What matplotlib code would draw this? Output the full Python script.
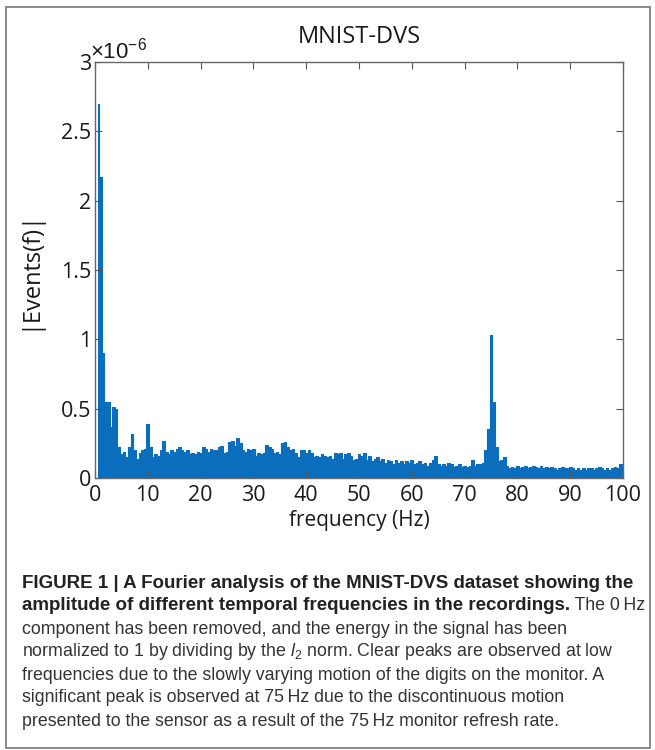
import numpy as np
import matplotlib
matplotlib.use("Agg")
import matplotlib.pyplot as plt
from matplotlib.patches import Rectangle

plt.rcParams['mathtext.fontset'] = 'custom'
plt.rcParams['mathtext.rm'] = 'Liberation Sans'
plt.rcParams['mathtext.it'] = 'Liberation Sans:italic'

# spectrum, 0.5 Hz steps, amplitude in units of 1e-6
freq = np.arange(1, 201) * 0.5
amp = [
    2.70, 2.17, 0.90, 0.55, 0.55, 0.37, 0.51, 0.50, 0.22, 0.17,
    0.19, 0.15, 0.22, 0.32, 0.20, 0.14, 0.18, 0.20, 0.21, 0.39,
    0.22, 0.15, 0.17, 0.16, 0.20, 0.27, 0.19, 0.17, 0.20, 0.19,
    0.21, 0.22, 0.20, 0.19, 0.20, 0.17, 0.18, 0.17, 0.19, 0.18,
    0.22, 0.21, 0.19, 0.21, 0.20, 0.20, 0.22, 0.23, 0.18, 0.19,
    0.26, 0.27, 0.23, 0.29, 0.25, 0.20, 0.19, 0.21, 0.20, 0.21,
    0.16, 0.18, 0.17, 0.18, 0.24, 0.22, 0.21, 0.18, 0.19, 0.17,
    0.25, 0.26, 0.22, 0.20, 0.21, 0.18, 0.15, 0.20, 0.20, 0.18,
    0.20, 0.18, 0.15, 0.16, 0.15, 0.17, 0.16, 0.15, 0.16, 0.14,
    0.18, 0.17, 0.18, 0.14, 0.17, 0.18, 0.16, 0.13, 0.14, 0.17,
    0.16, 0.18, 0.13, 0.16, 0.12, 0.14, 0.15, 0.12, 0.14, 0.11,
    0.13, 0.12, 0.10, 0.13, 0.11, 0.12, 0.10, 0.12, 0.11, 0.13,
    0.10, 0.11, 0.12, 0.10, 0.11, 0.09, 0.11, 0.13, 0.16, 0.10,
    0.09, 0.10, 0.09, 0.11, 0.10, 0.08, 0.09, 0.10, 0.08, 0.09,
    0.08, 0.09, 0.13, 0.09, 0.10, 0.10, 0.11, 0.20, 0.35, 1.03,
    0.55, 0.22, 0.12, 0.13, 0.15, 0.09, 0.07, 0.08, 0.07, 0.09,
    0.07, 0.08, 0.09, 0.07, 0.08, 0.09, 0.08, 0.07, 0.09, 0.07,
    0.08, 0.07, 0.08, 0.07, 0.06, 0.07, 0.08, 0.07, 0.07, 0.08,
    0.07, 0.06, 0.07, 0.06, 0.07, 0.06, 0.07, 0.07, 0.06, 0.07,
    0.08, 0.07, 0.06, 0.07, 0.06, 0.07, 0.08, 0.07, 0.10, 0.09,
]

xticks = [0, 10, 20, 30, 40, 50, 60, 70, 80, 90, 100]
yticks = [0, 0.5, 1, 1.5, 2, 2.5, 3]
ytick_labels = ['0', '0.5', '1', '1.5', '2', '2.5', '3']

caption_bold_1 = "FIGURE 1 | A Fourier analysis of the MNIST-DVS dataset showing the"
caption_bold_2 = "amplitude of different temporal frequencies in the recordings."
caption_rest_2 = " The 0\u2009Hz"
caption_lines = [
    "component has been removed, and the energy in the signal has been",
    "normalized to 1 by dividing by the $l_2$ norm. Clear peaks are observed at low",
    "frequencies due to the slowly varying motion of the digits on the monitor. A",
    "significant peak is observed at 75\u2009Hz due to the discontinuous motion",
    "presented to the sensor as a result of the 75\u2009Hz monitor refresh rate.",
]

W, H = 655, 750
blue = '#0a6ebd'
axfont = ['Open Sans', 'DejaVu Sans']
capfont = ['Liberation Sans', 'DejaVu Sans']

fig = plt.figure(figsize=(W / 100, H / 100), dpi=100)
fig.patches.append(Rectangle((6 / W, 1 - 748 / H), 644 / W, 741 / H,
                             transform=fig.transFigure, fill=False,
                             edgecolor='#777777', linewidth=1.2))

ax = fig.add_axes([95 / W, 1 - 478 / H, (623 - 95) / W, (478 - 62) / H])
ax.fill_between(freq, amp, step='mid', color=blue, linewidth=0)
ax.plot(freq, amp, drawstyle='steps-mid', color=blue, linewidth=0.8)
ax.set_xlim(0, 100)
ax.set_ylim(0, 3)
ax.set_xticks(xticks)
ax.set_yticks(yticks)
ax.set_yticklabels(ytick_labels)
ax.tick_params(direction='in', top=True, right=True, length=5, width=0.8,
               colors='#555555', labelcolor='#1a1a1a', labelsize=15.5)
ax.tick_params(axis='x', pad=5)
ax.tick_params(axis='y', pad=3)
for lab in ax.get_xticklabels() + ax.get_yticklabels():
    lab.set_family(axfont)
for s in ax.spines.values():
    s.set_color('#666666')
    s.set_linewidth(1.0)

ax.set_title('MNIST-DVS', family=axfont, fontsize=17, color='#1a1a1a', pad=14)
ax.set_xlabel('frequency (Hz)', family=axfont, fontsize=15, color='#1a1a1a', labelpad=3)
ax.set_ylabel('|Events(f)|', family=axfont, fontsize=17, color='#1a1a1a', labelpad=14)
fig.text(90 / W, 1 - 59 / H, r'$\times10^{-6}$', fontsize=16, color='#1a1a1a',
         ha='left', va='baseline', family=axfont)

# caption
x0 = 22 / W
line_y = [583, 606, 629, 652, 675, 698, 721]
fig.text(x0, 1 - line_y[0] / H, caption_bold_1, family=capfont, fontsize=13.5,
         fontweight='bold', va='center', color='#222222')
tb = fig.text(x0, 1 - line_y[1] / H, caption_bold_2, family=capfont, fontsize=13.5,
              fontweight='bold', va='center', color='#222222')
fig.canvas.draw()
bb = tb.get_window_extent()
fig.text(bb.x1 / W, 1 - line_y[1] / H, caption_rest_2, family=capfont, fontsize=12.8,
         va='center', color='#333333')
for y, line in zip(line_y[2:], caption_lines):
    fig.text(x0, 1 - y / H, line, family=capfont, fontsize=12.8, va='center',
             color='#333333')

fig.savefig('out.png', dpi=100)
